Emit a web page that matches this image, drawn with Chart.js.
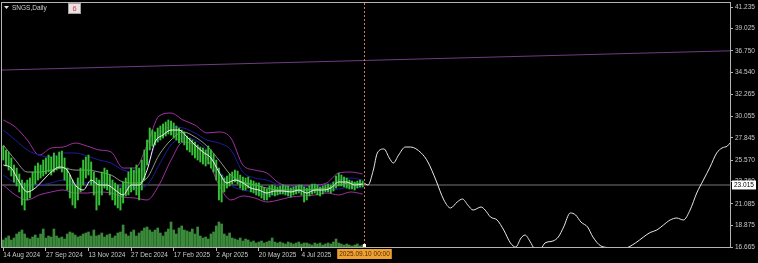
<!DOCTYPE html>
<html>
<head>
<meta charset="utf-8">
<script src="https://cdn.jsdelivr.net/npm/chart.js@4.4.1/dist/chart.umd.min.js"></script>
<style>
  html, body { margin: 0; padding: 0; background: #000; }
</style>
</head>
<body>
<canvas id="chart" width="758" height="263"></canvas>
<script>
// SNGS, Daily - bar index 0 = 14 Aug 2024, index 271 = 2025.09.10
const dateLabels = ['14 Aug 2024', '27 Sep 2024', '13 Nov 2024', '27 Dec 2024', '17 Feb 2025', '2 Apr 2025', '20 May 2025', '4 Jul 2025'];
const dateIdx = [0, 32, 64, 96, 128, 160, 192, 224];
const nowIdx = 271;
const nowLabel = '2025.09.10 00:00';
const lastIdx = 546;

const priceTicks = [16.665, 18.875, 21.085, 23.360, 25.570, 27.845, 30.055, 32.265, 34.540, 36.750, 39.025, 41.235];
const lastPrice = 23.015;

// one price bar for every second trading day (high / low)
const candleHigh = [
  27.00, 26.60, 26.39, 25.78, 25.06, 24.75, 24.14, 23.52, 23.22, 23.52,
  23.73, 24.34, 24.96, 25.26, 25.06, 25.57, 25.78, 26.08, 25.88, 26.29,
  25.98, 26.39, 26.49, 25.78, 24.75, 24.03, 23.52, 23.01, 23.73, 24.75,
  25.57, 25.88, 26.08, 25.37, 24.34, 23.73, 23.52, 24.34, 24.75, 24.54,
  24.03, 23.52, 23.22, 23.01, 22.70, 23.32, 23.73, 24.34, 24.75, 24.54,
  25.06, 24.75, 25.57, 26.60, 27.62, 28.85, 28.64, 28.44, 28.85, 29.05,
  29.26, 29.46, 29.67, 29.56, 29.36, 29.05, 28.85, 28.64, 28.44, 28.03,
  27.82, 27.62, 27.41, 27.11, 26.90, 26.80, 26.60, 27.00, 26.60, 26.19,
  25.57, 24.75, 24.03, 23.73, 23.93, 24.14, 24.34, 24.54, 24.44, 24.03,
  23.83, 23.73, 23.83, 23.52, 23.42, 23.22, 23.22, 22.91, 22.70, 22.60,
  22.91, 23.01, 22.91, 22.81, 22.91, 23.01, 22.91, 22.91, 22.70, 22.81,
  22.91, 23.01, 23.01, 22.81, 22.70, 22.91, 23.11, 23.11, 23.01, 22.81,
  22.91, 23.01, 23.11, 23.01, 23.32, 23.93, 24.24, 24.03, 23.83, 23.73,
  23.52, 23.42, 23.32, 23.42, 23.52, 23.42
];
const candleLow = [
  25.57, 24.96, 24.54, 23.93, 23.32, 22.91, 22.30, 20.96, 20.45, 21.48,
  21.68, 22.50, 23.11, 23.52, 23.73, 23.93, 24.14, 24.34, 24.03, 24.34,
  24.54, 24.75, 24.34, 23.52, 22.50, 21.68, 20.96, 20.66, 21.48, 22.30,
  23.01, 23.73, 24.03, 23.01, 21.99, 20.45, 20.96, 21.99, 22.70, 22.50,
  21.99, 21.48, 20.96, 20.66, 20.45, 21.17, 21.89, 21.99, 22.30, 22.50,
  21.99, 21.48, 22.50, 23.52, 25.06, 26.60, 27.00, 27.11, 27.41, 27.62,
  27.82, 28.03, 28.23, 28.13, 27.82, 27.62, 27.31, 27.41, 27.11, 26.60,
  26.39, 26.08, 25.78, 25.57, 25.37, 25.16, 24.96, 25.16, 24.75, 24.34,
  23.52, 21.48, 21.27, 22.30, 22.70, 22.91, 23.11, 23.32, 23.11, 22.70,
  22.50, 22.50, 22.70, 22.30, 22.19, 21.99, 21.89, 21.68, 21.48, 21.48,
  21.78, 21.99, 21.89, 21.99, 22.09, 22.09, 21.99, 21.89, 21.78, 21.99,
  22.09, 22.19, 21.99, 21.27, 21.48, 21.89, 22.09, 22.19, 21.99, 21.89,
  22.09, 22.30, 22.30, 22.19, 22.40, 22.70, 22.91, 22.91, 22.81, 22.70,
  22.60, 22.60, 22.50, 22.70, 22.81, 22.81
];
// volume, same bars
const volume = [
  8, 10, 12, 8, 10, 14, 16, 18, 14, 10,
  9, 11, 13, 10, 14, 19, 10, 12, 11, 19,
  12, 10, 11, 9, 14, 16, 15, 13, 11, 12,
  14, 15, 16, 12, 18, 12, 13, 15, 11, 13,
  14, 10, 12, 15, 16, 23, 14, 12, 16, 18,
  12, 15, 17, 20, 21, 18, 16, 18, 20, 15,
  12, 16, 19, 26, 18, 14, 20, 22, 18, 17,
  16, 19, 14, 21, 12, 10, 11, 9, 14, 16,
  22, 26, 24, 14, 12, 15, 10, 9, 8, 10,
  7, 9, 8, 6, 7, 5, 6, 7, 5, 6,
  7, 10, 6, 5, 6, 5, 4, 6, 5, 4,
  5, 6, 4, 5, 5, 4, 3, 5, 4, 5,
  3, 4, 5, 4, 6, 9, 5, 4, 3, 4,
  3, 2, 3, 4, 2, 3
];

// indicator lines, one value every 9 bars
const bbUpper = [29.67, 28.95, 27.62, 26.08, 26.80, 26.90, 27.31, 27.00, 26.60, 26.39, 24.75, 24.75, 27.11, 30.08, 30.38, 29.67, 29.15, 28.34, 28.44, 27.82, 25.06, 24.54, 24.24, 23.22, 22.91, 22.91, 23.01, 23.22, 24.24, 24.34, 24.14];
const bbLower = [23.01, 21.99, 21.48, 21.99, 22.30, 22.50, 22.19, 22.19, 22.30, 22.19, 21.78, 21.68, 21.48, 23.01, 25.57, 27.41, 27.11, 25.78, 23.01, 21.48, 21.89, 21.68, 21.27, 21.48, 21.78, 21.89, 21.99, 22.19, 21.99, 22.30, 22.09];
const envUpper = [28.64, 27.62, 26.60, 26.08, 25.88, 26.29, 26.29, 25.98, 25.57, 25.26, 24.54, 24.34, 25.06, 28.13, 28.95, 28.85, 28.34, 27.62, 27.31, 26.60, 24.34, 23.73, 23.52, 23.01, 22.81, 22.81, 22.91, 23.01, 23.52, 23.73, 23.52];
const envLower = [24.03, 23.22, 22.91, 23.01, 23.22, 23.52, 23.22, 23.22, 23.32, 23.01, 22.81, 22.70, 23.01, 25.06, 27.11, 27.82, 27.62, 26.60, 24.54, 23.01, 22.50, 22.30, 21.99, 22.09, 22.30, 22.40, 22.50, 22.50, 22.60, 22.81, 22.70];
const maSlow = [27.11, 25.57, 24.34, 24.34, 24.54, 24.75, 24.54, 24.54, 24.34, 24.03, 23.32, 23.22, 23.73, 26.08, 27.62, 28.44, 27.93, 27.00, 25.57, 24.03, 23.32, 23.01, 22.70, 22.50, 22.50, 22.50, 22.60, 22.70, 23.01, 23.22, 23.11];
// fast MA, one value every 6 bars
const maFast = [25.06, 24.75, 23.32, 22.30, 22.70, 23.52, 24.34, 24.85, 24.54, 23.01, 22.50, 23.52, 23.01, 23.01, 22.50, 21.99, 23.01, 23.01, 24.54, 27.41, 28.13, 28.64, 28.64, 27.93, 27.11, 26.39, 25.78, 24.34, 23.22, 23.52, 23.22, 22.70, 22.50, 22.19, 22.40, 22.40, 22.30, 22.50, 22.19, 22.50, 22.50, 22.70, 23.32, 23.32, 23.01, 23.11];

// projection after the current bar
const forecastIdx = [271, 274, 278, 281, 286, 290, 293, 297, 302, 306, 314, 319, 325, 331, 336, 341, 345, 349, 353, 359, 362, 366, 371, 376, 381, 385, 389, 392, 396, 399, 404, 407, 413, 417, 421, 426, 430, 434, 439, 443, 449, 456, 467, 475, 481, 486, 491, 496, 501, 506, 511, 516, 521, 526, 531, 536, 540, 544, 546];
const forecastVal = [23.22, 23.01, 24.54, 26.29, 26.70, 25.78, 25.26, 26.08, 26.90, 26.90, 26.29, 25.37, 23.52, 21.48, 20.66, 21.27, 21.58, 20.96, 20.45, 20.76, 20.45, 19.74, 19.43, 18.40, 17.08, 16.66, 17.59, 17.89, 17.18, 16.56, 16.56, 17.08, 17.28, 17.69, 18.71, 20.15, 19.94, 19.22, 18.71, 17.69, 16.77, 16.60, 16.56, 17.08, 17.69, 18.15, 18.40, 18.92, 19.43, 19.63, 19.43, 20.45, 22.19, 23.52, 24.85, 26.29, 26.80, 27.00, 27.31];

// long trend line
const trendIdx = [-1, 546];
const trendVal = [34.78, 36.75];

const FONT = { family: 'Liberation Sans', size: 6.5 };
const TXT = '#c8c8c8';
const FRAME = '#b4b4b4';

function every(step, arr) {
  return arr.map((v, k) => ({ x: k * step, y: v }));
}

function lineSet(data, color, order, width) {
  return {
    type: 'line', data: data, borderColor: color, borderWidth: width || 1,
    pointRadius: 0, tension: 0.4, cubicInterpolationMode: 'monotone', order: order
  };
}

const mtPlugin = {
  id: 'mt',
  beforeDraw(chart) {
    const c = chart.ctx;
    c.save();
    c.fillStyle = '#000';
    c.fillRect(0, 0, chart.width, chart.height);
    c.restore();
  },
  afterDraw(chart) {
    const c = chart.ctx;
    const a = chart.chartArea;
    const x = chart.scales.x, y = chart.scales.y;
    c.save();

    // frame
    c.strokeStyle = FRAME;
    c.lineWidth = 1;
    c.strokeRect(Math.round(a.left) - 0.5, Math.round(a.top) - 0.5, Math.round(a.right - a.left) + 1, Math.round(a.bottom - a.top));

    // current bar separator
    const vx = Math.round(x.getPixelForValue(nowIdx)) + 0.5;
    c.strokeStyle = '#c8805a';
    c.setLineDash([2, 2]);
    c.beginPath();
    c.moveTo(vx, a.top);
    c.lineTo(vx, a.bottom);
    c.stroke();
    c.setLineDash([]);
    c.fillStyle = '#ffffff';
    c.fillRect(vx - 1.5, a.bottom - 4, 3, 3);

    c.font = FONT.size + 'px ' + FONT.family;
    c.textBaseline = 'middle';

    // date label under separator
    const tw = c.measureText(nowLabel).width;
    c.fillStyle = '#f0a030';
    c.fillRect(vx - tw / 2 - 2, a.bottom + 1, tw + 4, 10);
    c.fillStyle = '#4a2a00';
    c.textAlign = 'center';
    c.fillText(nowLabel, vx, a.bottom + 6.5);

    // last price box
    const py = y.getPixelForValue(lastPrice);
    c.fillStyle = '#ffffff';
    c.fillRect(a.right + 2, py - 4.5, 24, 9);
    c.fillStyle = '#000000';
    c.textAlign = 'left';
    c.fillText(lastPrice.toFixed(3), a.right + 4, py + 0.5);

    // title
    c.fillStyle = '#e0e0e0';
    c.beginPath();
    c.moveTo(4, 6); c.lineTo(9, 6); c.lineTo(6.5, 9); c.closePath();
    c.fill();
    c.fillStyle = '#d0d0d0';
    c.fillText('SNGS,Daily', 12, 8);

    c.fillStyle = '#e8e2e2';
    c.fillRect(68.5, 3.5, 12, 10);
    c.strokeStyle = '#a0a0a0';
    c.strokeRect(68.5, 3.5, 12, 10);
    c.fillStyle = '#e03a3a';
    c.textAlign = 'center';
    c.font = '7.5px ' + FONT.family;
    c.fillText('6', 74.5, 9);

    c.restore();
  }
};

const ctx = document.getElementById('chart').getContext('2d');
new Chart(ctx, {
  type: 'bar',
  data: {
    datasets: [
      {
        type: 'bar', yAxisID: 'vol', data: every(2, volume),
        backgroundColor: '#3b8a3b', barThickness: 2, grouped: false, order: 10
      },
      lineSet(trendIdx.map((v, k) => ({ x: v, y: trendVal[k] })), '#6e3c82', 9),
      lineSet([{ x: -1, y: lastPrice }, { x: lastIdx, y: lastPrice }], '#777777', 8, 1.2),
      lineSet(every(9, bbUpper), '#a030a0', 7),
      lineSet(every(9, bbLower), '#a030a0', 7),
      lineSet(every(9, envUpper), '#1c1ca0', 6),
      lineSet(every(9, envLower), '#1c1ca0', 6),
      lineSet(every(9, maSlow), '#8a9a88', 5),
      {
        type: 'bar', yAxisID: 'y', data: candleHigh.map((h, k) => ({ x: k * 2, y: [candleLow[k], h] })),
        backgroundColor: '#36c036', barThickness: 1.3, grouped: false, order: 4
      },
      lineSet(every(6, maFast), '#f0f0f0', 3),
      lineSet(forecastIdx.map((v, k) => ({ x: v, y: forecastVal[k] })), '#e8e8e8', 2)
    ]
  },
  options: {
    responsive: false,
    animation: false,
    layout: { padding: { left: 2, top: 3, right: 0, bottom: 0 } },
    plugins: { legend: { display: false }, tooltip: { enabled: false } },
    scales: {
      x: {
        type: 'linear', min: -1, max: lastIdx, offset: false,
        afterFit: s => { s.height = 15; s.paddingLeft = 0; s.paddingRight = 0; },
        afterBuildTicks: s => { s.ticks = dateIdx.map(v => ({ value: v })); },
        ticks: {
          autoSkip: false, maxRotation: 0, align: 'start', padding: 0,
          color: TXT, font: FONT,
          callback: v => dateLabels[dateIdx.indexOf(v)]
        },
        grid: { drawOnChartArea: false, offset: false, tickLength: 3, color: FRAME },
        border: { display: false }
      },
      y: {
        position: 'right', min: 16.563, max: 41.645,
        afterFit: s => { s.width = 28; s.paddingTop = 0; s.paddingBottom = 0; },
        afterBuildTicks: s => { s.ticks = priceTicks.map(v => ({ value: v })); },
        ticks: { color: TXT, font: FONT, padding: 2, callback: v => v.toFixed(3) },
        grid: { drawOnChartArea: false, tickLength: 3, color: FRAME },
        border: { display: false }
      },
      vol: { display: false, min: 0, max: 245 }
    }
  },
  plugins: [mtPlugin]
});
</script>
</body>
</html>
